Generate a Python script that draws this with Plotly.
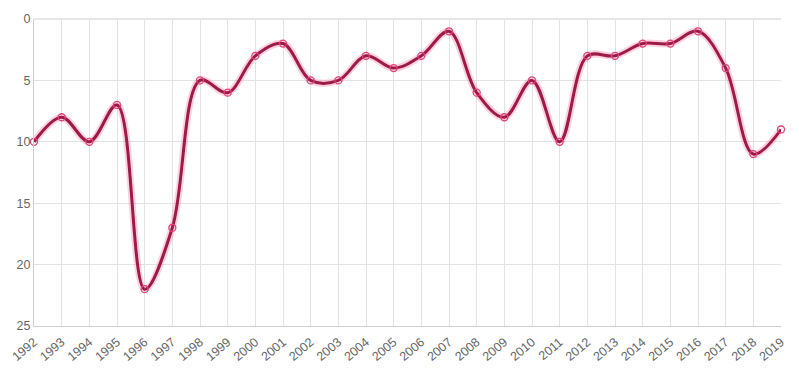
import plotly.graph_objects as go

years = [str(y) for y in range(1992, 2020)]
ranks = [10, 8, 10, 7, 22, 17, 5, 6, 3, 2, 5, 5, 3, 4, 3, 1, 6, 8, 5, 10, 3, 3, 2, 2, 1, 4, 11, 9]
y_ticks = [0, 5, 10, 15, 20, 25]

fig = go.Figure()
fig.add_trace(go.Scatter(
    x=years, y=ranks, mode="lines",
    line=dict(color="rgba(255,120,160,0.35)", width=7, shape="spline", smoothing=1),
    hoverinfo="skip", showlegend=False, cliponaxis=False,
))
fig.add_trace(go.Scatter(
    x=years, y=ranks, mode="lines+markers",
    line=dict(color="#9e1a48", width=3, shape="spline", smoothing=1),
    marker=dict(size=7, color="rgba(255,255,255,0)", line=dict(color="#e0447a", width=1.3)),
    showlegend=False, cliponaxis=False,
))
fig.update_layout(
    width=799, height=376,
    margin=dict(l=26, r=26, t=11, b=58),
    plot_bgcolor="white", paper_bgcolor="white",
    font=dict(family="Liberation Sans, Arial, sans-serif", size=12, color="#666"),
)
fig.update_xaxes(
    type="category", range=[0, len(years) - 1], automargin=False,
    showgrid=True, gridcolor="#e3e3e3", gridwidth=1,
    tickangle=-40, ticks="", showline=True, linecolor="#cfcfcf",
    ticklabelstandoff=3,
    tickfont=dict(size=12.5, color="#666"),
)
fig.update_yaxes(
    range=[25, 0], tickvals=y_ticks, automargin=False,
    showgrid=True, gridcolor="#e3e3e3", gridwidth=1,
    zeroline=False, showline=True, linecolor="#cfcfcf",
    ticks="", tickfont=dict(size=12.5, color="#666"),
)
fig.add_shape(type="line", xref="paper", yref="paper", x0=0, x1=1, y0=1, y1=1,
              line=dict(color="#cfcfcf", width=1), layer="below")
fig.write_html("out.html")
